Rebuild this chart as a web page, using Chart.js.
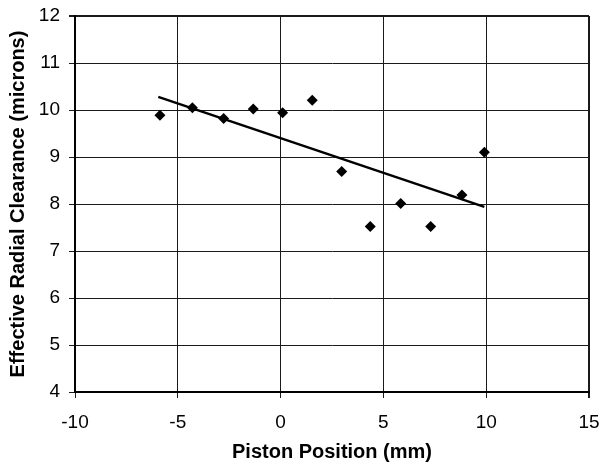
<!DOCTYPE html>
<html>
<head>
<meta charset="utf-8">
<script src="https://cdn.jsdelivr.net/npm/chart.js@4"></script>
<style>
  html, body { margin: 0; padding: 0; background: #fff; }
  #chart { display: block; }
</style>
</head>
<body>
<canvas id="chart" width="601" height="465"></canvas>
<script>
// values
const positions  = [-5.87, -4.29, -2.77, -1.33, 0.10, 1.54, 2.97, 4.36, 5.84, 7.30, 8.82, 9.91];
const clearances = [9.89, 10.05, 9.82, 10.02, 9.94, 10.21, 8.69, 7.52, 8.01, 7.52, 8.19, 9.10];
// linear trend line end points, as drawn in the picture
const trendX = [-5.95, 9.91];
const trendY = [10.28, 7.94];
const xRange = [-10, 15];
const yRange = [4, 12];

const FONT = "'Liberation Sans', Arial, sans-serif";

const points = positions.map((x, i) => ({ x: x, y: clearances[i] }));
const trend = trendX.map((x, i) => ({ x: x, y: trendY[i] }));

const ctx = document.getElementById('chart').getContext('2d');

new Chart(ctx, {
  type: 'scatter',
  data: {
    datasets: [
      {
        label: 'Clearance',
        data: points,
        pointStyle: 'rectRot',
        pointRadius: 5.5,
        pointBorderWidth: 0,
        backgroundColor: '#000',
        borderColor: '#000'
      },
      {
        label: 'Trend',
        data: trend,
        showLine: true,
        pointRadius: 0,
        borderColor: '#000',
        borderWidth: 2.5
      }
    ]
  },
  options: {
    responsive: false,
    animation: false,
    layout: {
      padding: { top: 16, right: 12, left: 0, bottom: 0 }
    },
    plugins: {
      legend: { display: false },
      tooltip: { enabled: false }
    },
    scales: {
      x: {
        type: 'linear',
        min: xRange[0],
        max: xRange[1],
        afterFit: s => {
          s.height = 73;
          s.paddingLeft = 0;
          s.paddingRight = 0;
        },
        ticks: {
          stepSize: 5,
          color: '#000',
          font: { family: FONT, size: 19 },
          padding: 13,
          maxRotation: 0,
          autoSkip: false
        },
        grid: {
          color: '#1a1a1a',
          lineWidth: c => (c.tick && c.tick.value === xRange[1]) ? 2 : 1,
          tickLength: 6
        },
        border: { color: '#000', width: 2 },
        title: {
          display: true,
          text: 'Piston Position (mm)',
          color: '#000',
          font: { family: FONT, size: 20, weight: 'bold' },
          padding: { top: 0, bottom: 1 }
        }
      },
      y: {
        type: 'linear',
        min: yRange[0],
        max: yRange[1],
        afterFit: s => {
          s.width = 75;
          s.paddingTop = 0;
          s.paddingBottom = 0;
        },
        ticks: {
          stepSize: 1,
          color: '#000',
          font: { family: FONT, size: 19 },
          padding: 9
        },
        grid: {
          color: '#1a1a1a',
          lineWidth: c => (c.tick && c.tick.value === yRange[1]) ? 2 : 1,
          tickLength: 6
        },
        border: { color: '#000', width: 2 },
        title: {
          display: true,
          text: 'Effective Radial Clearance (microns)',
          color: '#000',
          font: { family: FONT, size: 20, weight: 'bold' },
          padding: { top: 6, bottom: 0 }
        }
      }
    }
  }
});
</script>
</body>
</html>
